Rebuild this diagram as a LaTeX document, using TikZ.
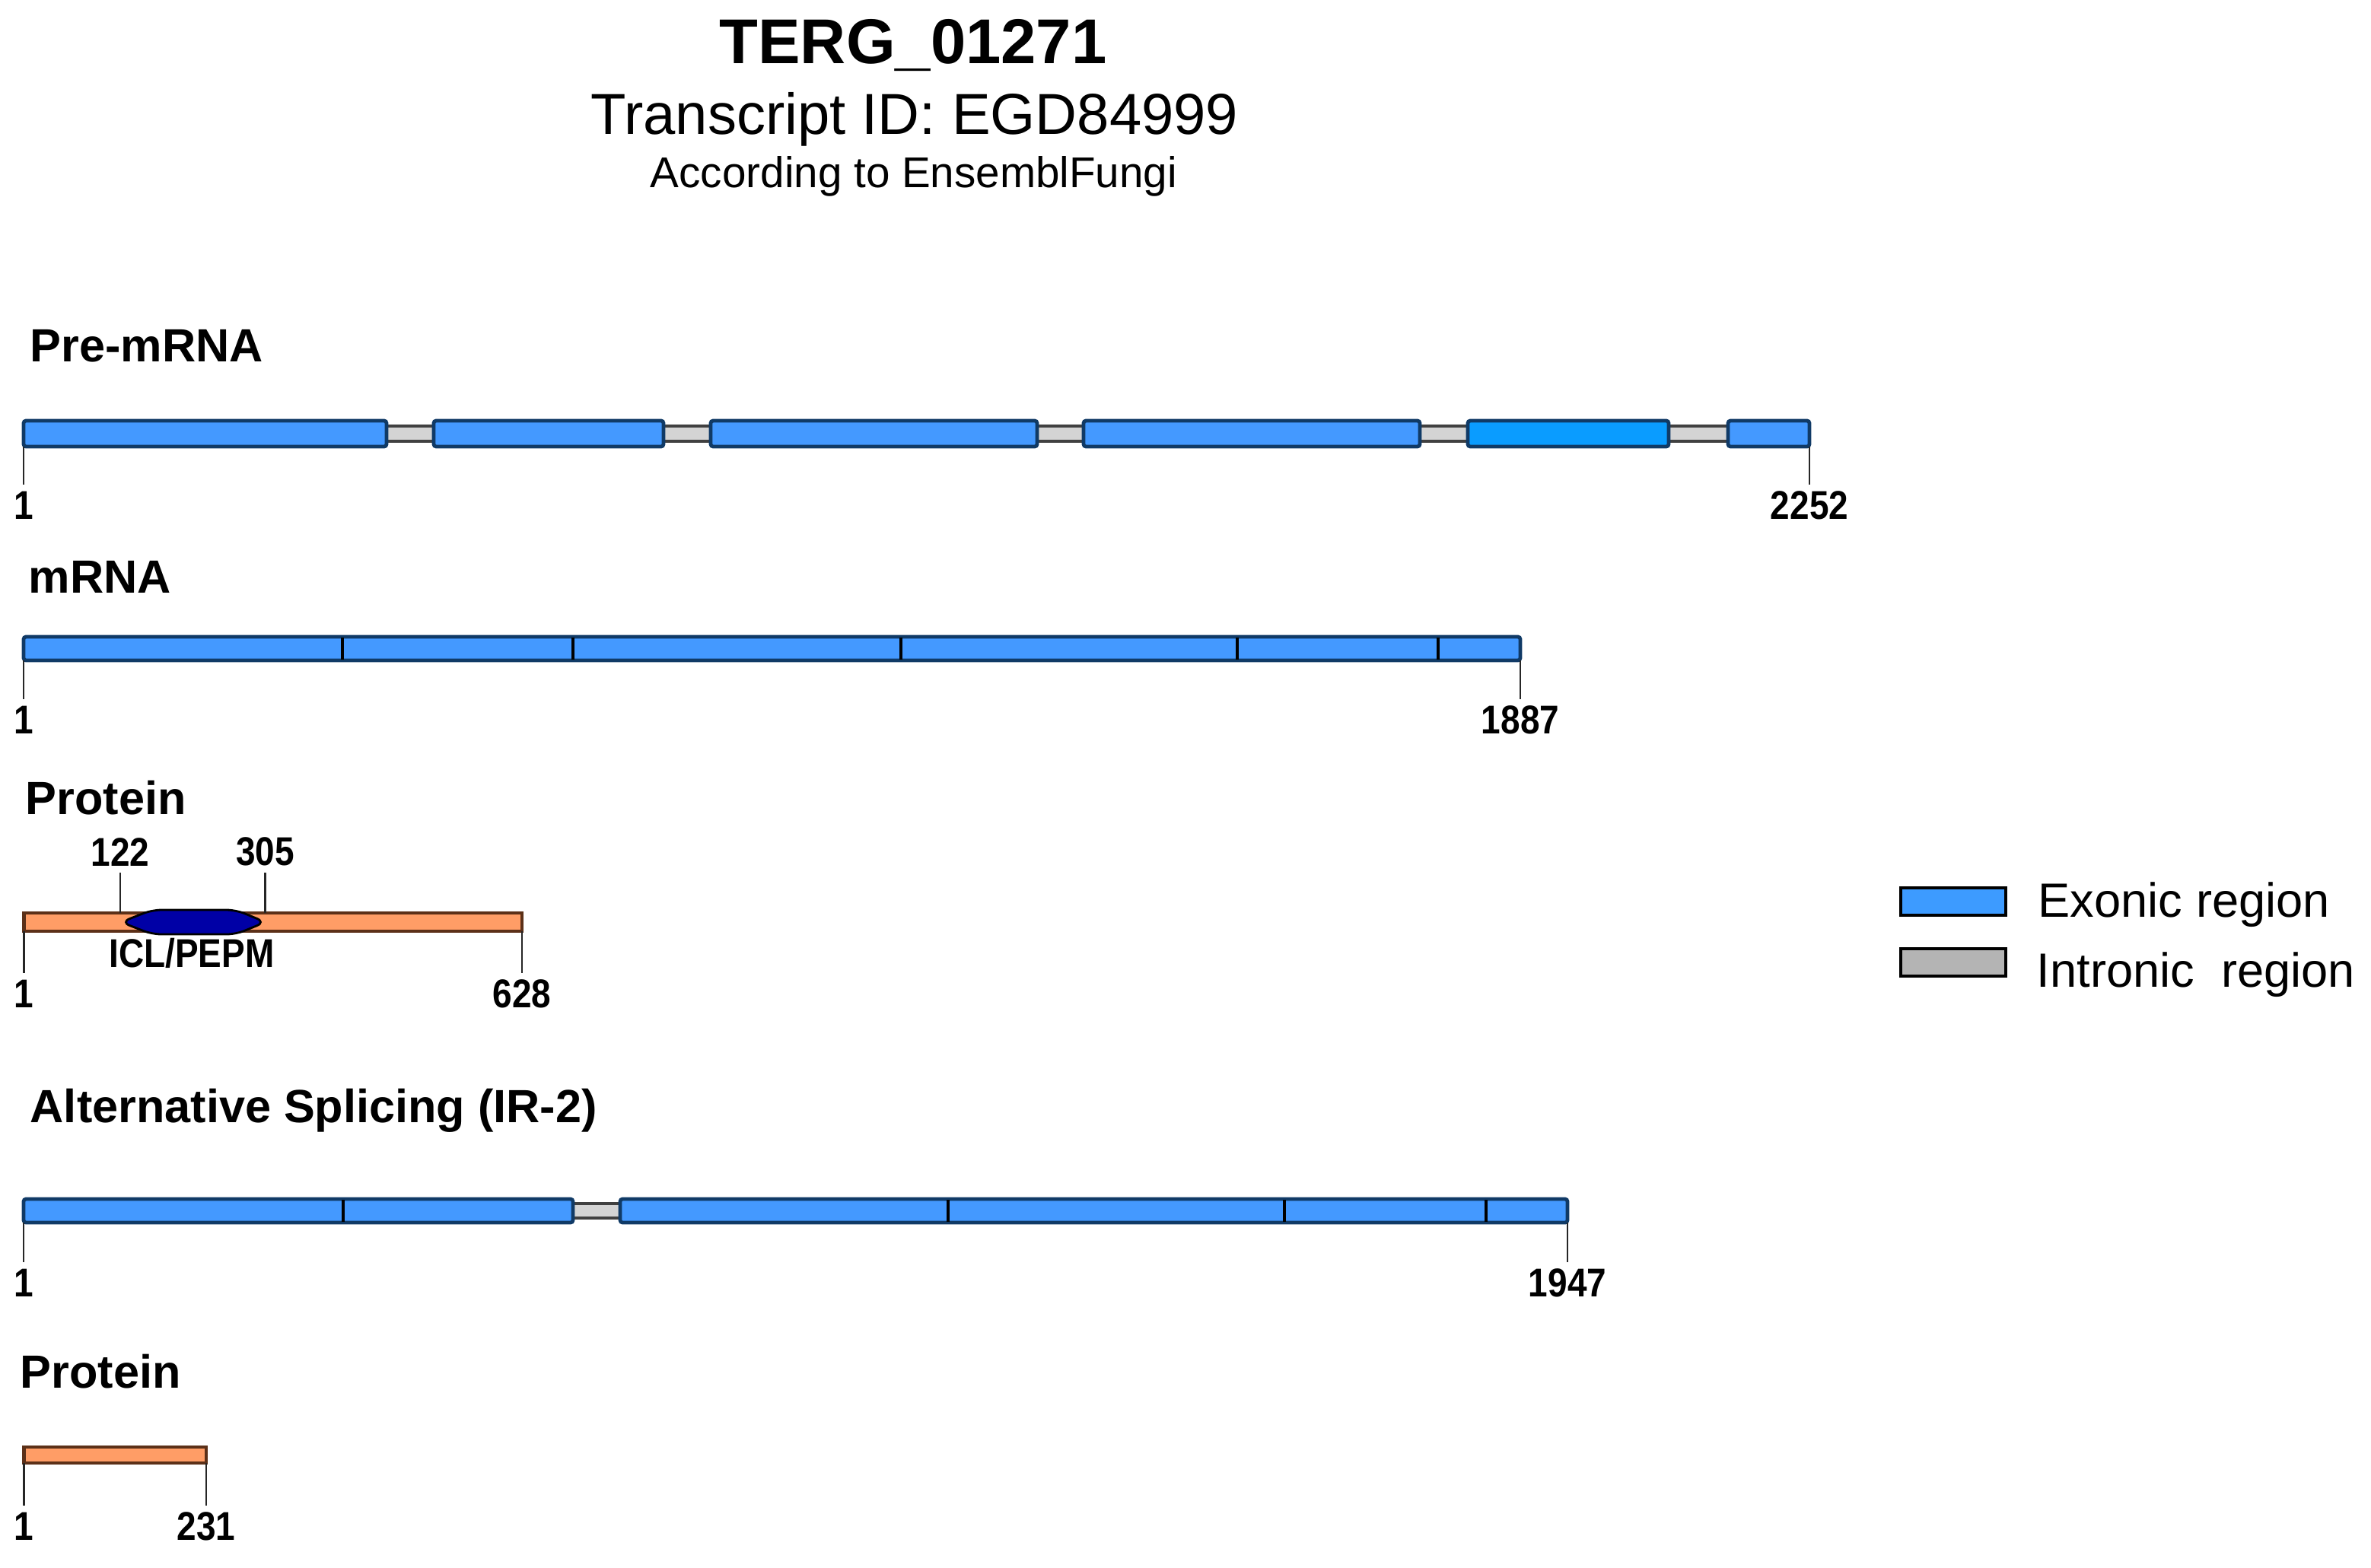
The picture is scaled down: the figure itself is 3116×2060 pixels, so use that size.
\documentclass[tikz,border=0pt]{standalone}
\usepackage{fontspec}
\setmainfont{Liberation Sans}
\newfontfamily\narrowfont{Liberation Sans}[FakeStretch=0.87]
\definecolor{exon}{HTML}{4499FF}
\definecolor{exonbright}{HTML}{0A9CFF}
\definecolor{exonedge}{HTML}{103A66}
\definecolor{intron}{HTML}{D4D4D4}
\definecolor{intronedge}{HTML}{404040}
\definecolor{prot}{HTML}{FF9D66}
\definecolor{protedge}{HTML}{5C3018}
\definecolor{dom}{HTML}{0000A6}
\definecolor{legexon}{HTML}{3D9BFF}
\definecolor{legintron}{HTML}{B4B4B4}
\tikzset{
  exonbox/.style={fill=exon, draw=exonedge, line width=1.2pt, rounded corners=0.8pt},
  exonbrightbox/.style={fill=exonbright, draw=exonedge, line width=1.2pt, rounded corners=0.8pt},
  intronbox/.style={fill=intron, draw=intronedge, line width=1.1pt},
  protbox/.style={fill=prot, draw=protedge, line width=1.1pt},
  divider/.style={draw=black, line width=1.1pt},
  tick/.style={draw=black!85, line width=0.7pt},
  numlabel/.style={font=\narrowfont\bfseries\fontsize{13.2}{15}\selectfont, inner sep=2pt},
  rowlabel/.style={font=\bfseries\fontsize{15.3}{18}\selectfont, inner sep=0pt},
  legtext/.style={font=\fontsize{15.8}{18}\selectfont, inner sep=0pt},
  legbox/.style={draw=black, line width=1pt}
}
\begin{document}
\begin{tikzpicture}[x=0.25pt,y=-0.25pt]
\useasboundingbox (0,0) rectangle (3116,2060);
\fill[white] (0,0) rectangle (3116,2060);

% ---------- titles ----------
\node[font=\bfseries\fontsize{20.8}{24}\selectfont, inner sep=0pt, anchor=base] (title) at (1200,83) {TERG\_01271};
\node[font=\fontsize{19}{22}\selectfont, inner sep=0pt, anchor=base] (transcript) at (1202,176) {Transcript ID: EGD84999};
\node[font=\fontsize{14.15}{17}\selectfont, inner sep=0pt, anchor=base] (source) at (1201,246) {According to EnsemblFungi};

% ---------- Pre-mRNA ----------
\node[rowlabel, anchor=base west] (premlabel) at (39,475) {Pre-mRNA};
\draw[intronbox] (500,560) rectangle (578,580);
\draw[intronbox] (864,560) rectangle (942,580);
\draw[intronbox] (1355,560) rectangle (1432,580);
\draw[intronbox] (1858,560) rectangle (1937,580);
\draw[intronbox] (2185,560) rectangle (2279,580);
\draw[exonbox] (31,553) rectangle (508,587);
\draw[exonbox] (570,553) rectangle (872,587);
\draw[exonbox] (934,553) rectangle (1363,587);
\draw[exonbox] (1424,553) rectangle (1866,587);
\draw[exonbrightbox] (1929,553) rectangle (2193,587);
\draw[exonbox] (2271,553) rectangle (2378,587);
\coordinate (pm-a) at (31,587);
\coordinate (pm-b) at (2378,587);
\node[numlabel, anchor=north] (pm-1) at (31,637) {1};
\node[numlabel, anchor=north] (pm-2252) at (2378,637) {2252};
\draw[tick] (pm-a) -- (pm-1.north);
\draw[tick] (pm-b) -- (pm-2252.north);

% ---------- mRNA ----------
\node[rowlabel, anchor=base west] (mlabel) at (37,779) {mRNA};
\draw[exonbox] (31,837) rectangle (1998,868);
\foreach \xx in {450,753,1184,1626,1890} \draw[divider] (\xx,838) -- (\xx,867);
\coordinate (m-a) at (31,868);
\coordinate (m-b) at (1998,868);
\node[numlabel, anchor=north] (m-1) at (31,919) {1};
\node[numlabel, anchor=north] (m-1887) at (1998,919) {1887};
\draw[tick] (m-a) -- (m-1.north);
\draw[tick] (m-b) -- (m-1887.north);

% ---------- Protein ----------
\node[rowlabel, anchor=base west] (plabel) at (33,1070) {Protein};
\draw[protbox] (31.6,1200) rectangle (686,1224);
\draw[fill=dom, draw=black, line width=0.7pt, rounded corners=3pt]
  (159,1212) -- (200,1196) -- (310,1196) -- (349,1212) -- (310,1228) -- (200,1228) -- cycle;
\node[numlabel, anchor=base] (dom) at (252,1271) {ICL/PEPM};
\coordinate (p-122) at (158,1200);
\coordinate (p-305) at (348.5,1200);
\node[numlabel, anchor=south] (p-122l) at (158,1147) {122};
\node[numlabel, anchor=south] (p-305l) at (348.5,1147) {305};
\draw[tick] (p-122) -- (p-122l.south);
\draw[tick] (p-305) -- (p-305l.south);
\coordinate (p-a) at (31.6,1224);
\coordinate (p-b) at (686,1224);
\node[numlabel, anchor=north] (p-1) at (31.6,1279) {1};
\node[numlabel, anchor=north] (p-628) at (686,1279) {628};
\draw[tick] (p-a) -- (p-1.north);
\draw[tick] (p-b) -- (p-628.north);

% ---------- Alternative splicing ----------
\node[rowlabel, anchor=base west] (aslabel) at (39,1475) {Alternative Splicing (IR-2)};
\draw[intronbox] (745,1582) rectangle (823,1601);
\draw[exonbox] (31,1576) rectangle (753,1607);
\draw[divider] (451,1577) -- (451,1606);
\draw[exonbox] (815,1576) rectangle (2060,1607);
\foreach \xx in {1246,1688,1953} \draw[divider] (\xx,1577) -- (\xx,1606);
\coordinate (as-a) at (31,1607);
\coordinate (as-b) at (2060,1607);
\node[numlabel, anchor=north] (as-1) at (31,1659) {1};
\node[numlabel, anchor=north] (as-1947) at (2060,1659) {1947};
\draw[tick] (as-a) -- (as-1.north);
\draw[tick] (as-b) -- (as-1947.north);

% ---------- Protein (IR-2) ----------
\node[rowlabel, anchor=base west] (p2label) at (26,1824) {Protein};
\draw[protbox] (31.6,1902) rectangle (271,1923);
\coordinate (q-a) at (31.6,1923);
\coordinate (q-b) at (271,1923);
\node[numlabel, anchor=north] (q-1) at (31.6,1979) {1};
\node[numlabel, anchor=north] (q-231) at (271,1979) {231};
\draw[tick] (q-a) -- (q-1.north);
\draw[tick] (q-b) -- (q-231.north);

% ---------- legend ----------
\draw[legbox, fill=legexon] (2498,1167) rectangle (2636,1203);
\draw[legbox, fill=legintron] (2498,1247) rectangle (2636,1283);
\node[legtext, anchor=base west] (legE) at (2678,1205) {Exonic region};
\node[legtext, anchor=base west] (legI) at (2676,1297) {Intronic\ \ region};
\end{tikzpicture}
\end{document}
